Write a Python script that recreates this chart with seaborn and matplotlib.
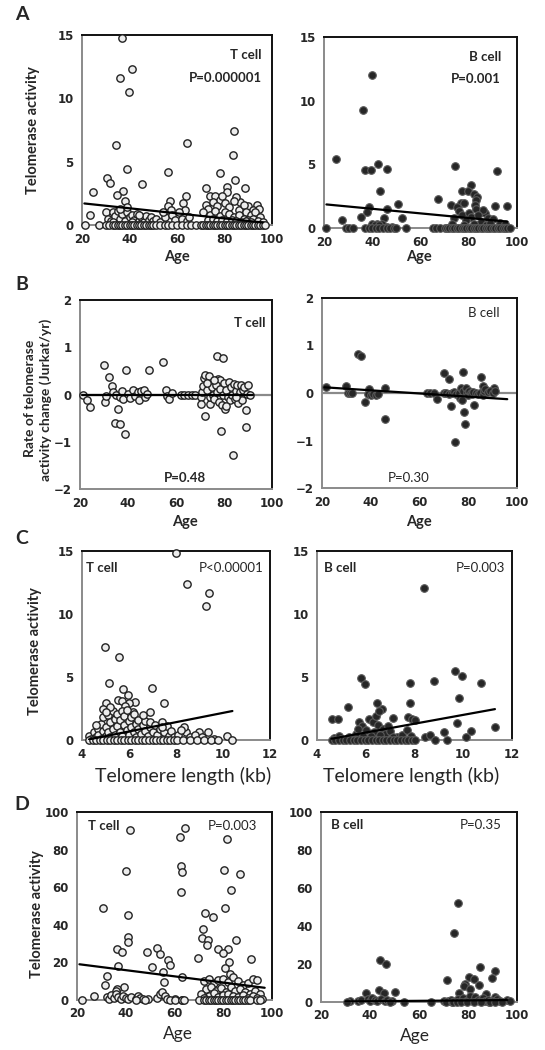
import numpy as np
import pandas as pd
import matplotlib
matplotlib.use("Agg")
import matplotlib.pyplot as plt
import seaborn as sns

# ---------------- DATA ----------------
# Panel A: age vs telomerase activity
a_t_points = [(36.8,14.8),(36.1,11.6),(41.1,12.3),(39.6,10.5),(34.5,6.3),(83.9,7.4),(64.2,6.5),(83.4,5.5),
    (38.9,4.45),(56.2,4.2),(78.2,4.1),(30.5,3.75),(31.6,3.3),(45.1,3.2),(84.6,3.55),(81.1,3.0),(88.8,2.95),
    (72.2,2.9),(24.6,2.6),(37.3,2.7),(34.7,2.4),(63.6,2.3),(74.0,2.3),(76.1,2.3),(37.9,1.9),(57.2,1.9),
    (78.2,2.0),(86.6,1.85),(62.6,1.7),(93.7,1.6),(23.5,0.8),(63.5,1.2),(56,1.5),(57.5,1.2),(81,2.6),(79,2.3),
    (85,2.2),(90,1.5),(92,1.2),(94.5,1.3),(72,1.6),(73,1.3),(75,1.8),(77,1.5),(80,1.7),(82,1.4),(84,1.9),
    (86,1.2),(88,1.6),(89,1.0),(91,0.8),(93,1.0),(95,0.6),(71,1.0),(74,0.8),(76,1.1),(78,0.7),(80,1.0),
    (82,0.9),(84,0.6),(86,0.8),(88,0.5),(90,0.4),(92,0.5),(94,0.3),(96,0.2),(73,0.4),(75,0.5),(77,0.3),
    (79,0.4),(81,0.3),(83,0.4),(85,0.3),(87,0.2),(89,0.3),(91,0.2),(30,1.0),(31,0.5),(32,0.3),(33,1.0),
    (34,0.7),(35,1.1),(36,0.5),(37,0.9),(38,0.3),(39,1.0),(40,0.6),(41,0.8),(42,0.4),(43,0.9),(44,0.3),
    (45,0.6),(46,0.2),(47,0.7),(48,0.4),(49,0.6),(50,0.3),(51,0.5),(36,1.3),(39,1.4),(33,0.2),(41,0.2),
    (44,0.8),(53,0.2),(55,0.6),(58,0.8),(59,0.4),(61,1.0),(62,0.5),(64,0.3),(65,0.6),(54,1.0)]
a_t_zero_ages = [21.4,27,30,31.5,33,34,35,36,37,38,39,40,41,42,43,44,45,46,47,48,49,50,51,53,55,56,58,60,
    62,64,66,68,70,71,72,73,74,75,76,77,78,79,80,81,82,83,84,85,86,87,88,89,90,91,92,93,94,95,96,97]
a_t_fit_x = [21, 96]
a_t_fit_y = [1.7, 0.2]

a_b_points = [(39.7,12.0),(36.3,9.3),(24.8,5.45),(42.5,5.0),(37.2,4.55),(39.6,4.55),(46.2,4.6),(74.5,4.9),
    (91.7,4.45),(43.2,2.9),(67.2,2.25),(46.2,1.5),(50.8,1.85),(38.6,1.65),(38,1.25),(35.2,0.85),(45,0.75),
    (52.4,0.75),(27.6,0.6),(72.5,1.8),(81,3.35),(77.2,2.9),(79.6,2.9),(82,2.7),(83.5,2.45),(83,2.2),
    (82.5,1.8),(83,1.5),(76.8,1.95),(78.2,1.95),(75,1.65),(91,1.7),(96,1.7),(86.7,1.2),(86,1.45),(76,1.3),
    (77,1.0),(80,1.2),(81,0.9),(84,1.0),(88,0.8),(90,0.7),(74,0.8),(79,0.6),(85,0.5),(93,0.4),(95,0.3),
    (73,0.3),(78,0.2),(82,0.3),(87,0.2),(89,0.4),(40,0.3),(42,0.35),(44,0.3),(41,0.2),(43,0.2),(46,0.1),(48,0.1)]
a_b_zero_ages = [21,29,30.5,32,37,38.5,40,41.5,43,44.5,46,47.5,49,50,54,65,66.5,68,70,71,72,73,74,75,76,
    77,78,79,80,81,82,83,84,85,86,87,88,89,90,91,92,93,94,95,96,97]
a_b_fit_x = [21, 96]
a_b_fit_y = [1.85, 0.5]

# Panel B: age vs rate of telomerase activity change
b_t_points = [(21.1,0),(23,-0.11),(24.2,-0.27),(30.1,0.63),(31.9,0.37),(33.2,0.18),(33.9,0.06),(30.6,-0.15),
    (31,-0.04),(34.7,-0.6),(36.7,-0.62),(36,-0.3),(38.7,-0.83),(39.2,0.51),(35,0.0),(36.5,-0.05),(37.5,0.08),
    (38,-0.1),(40,0.02),(41,-0.07),(42,0.1),(43,-0.03),(44,0.05),(44.5,-0.12),(45.5,0.07),(46.5,0.1),
    (47,-0.05),(48,0.02),(48.8,0.51),(54.4,0.69),(55.7,0.1),(56.1,-0.03),(57.1,-0.1),(58.2,0.03),(62,0),
    (63.5,0),(65,0),(66.5,0),(68,0),(70.4,-0.06),(70.8,0.06),(71.2,0.17),(71.5,0.35),(72.2,0.42),(73.9,0.40),
    (72,-0.45),(70.6,-0.2),(74.2,-0.2),(77.6,0.33),(78.3,0.31),(77.2,0.82),(79.4,0.78),(78.6,-0.78),
    (83.9,-1.27),(89,-0.68),(89.2,-0.32),(73,0.1),(74,-0.05),(75,0.15),(75.5,0.0),(76,-0.1),(76.5,0.2),
    (77,0.05),(78,-0.15),(78.5,0.12),(79,-0.22),(79.5,0.0),(80,0.25),(80.5,-0.3),(81,0.1),(81.5,-0.05),
    (82,0.27),(82.5,-0.12),(83,0.15),(83.5,0.0),(84,0.22),(84.5,-0.1),(85,0.08),(85.5,0.2),(86,-0.18),
    (86.5,0.05),(87,0.2),(87.5,-0.12),(88,0.1),(88.5,0.15),(89.5,0.02),(90,0.2),(91,0.0),(76,0.3),
    (81,-0.25),(85,-0.05),(73,0.25)]
b_t_fit_x = [21, 92]
b_t_fit_y = [-0.02, -0.02]

b_b_points = [(21.8,0.12),(29.8,0.15),(30.5,0),(31.5,0),(32.3,0),(34.8,0.82),(36.1,0.78),(37.6,-0.18),
    (39.1,0.09),(39,-0.03),(40,-0.05),(41,-0.03),(42,-0.04),(43,-0.02),(46,0.11),(45.7,-0.54),(63,0),
    (64.5,0),(66,0),(67.2,-0.13),(69.9,0.42),(72.3,0.29),(73,-0.27),(74.4,-1.04),(77.7,0.45),(78.4,-0.4),
    (78.8,-0.65),(82.5,-0.25),(85.4,0.34),(86.1,0.15),(90.7,0.11),(70,0),(71,0.0),(72,-0.02),(73.5,0.0),
    (74,0.02),(75,-0.03),(76,0.0),(76.5,-0.1),(77,0.1),(77.5,-0.15),(78,0.05),(79,0.1),(79.5,0.0),
    (80,-0.05),(80.5,0.05),(81,0.0),(81.5,-0.03),(82,0.02),(83,0.0),(84,-0.02),(85,0.0),(86,-0.05),
    (86.5,0.05),(87,0.08),(88,0.02),(89,0.05),(90,0.0),(91,0.05)]
b_b_fit_x = [21, 96]
b_b_fit_y = [0.12, -0.13]

# Panel C: telomere length vs telomerase activity
c_t_points = [(7.99,14.85),(8.48,12.4),(9.4,11.7),(9.26,10.66),(4.98,7.37),(5.56,6.55),(5.16,4.5),(5.73,4.05),
    (6.99,4.1),(5.97,3.57),(5.55,3.2),(5.69,3.1),(6.26,3.04),(6.01,2.96),(5.83,2.7),(5.02,2.9),(7.49,2.9),
    (4.9,2.5),(6.89,2.25),(8.98,0.6),(9.37,0.6),(10.16,0.35),(10.4,0),(8.43,0.66),(8.35,1.05),(6.17,2.2),
    (4.3,0.3),(4.4,0.1),(4.5,0.6),(4.6,0.2),(4.7,0.9),(4.7,0.4),(4.8,1.3),(4.8,0.1),(4.9,0.7),(4.9,1.8),
    (5.0,1.0),(5.0,0.3),(5.1,2.0),(5.1,0.6),(5.2,1.4),(5.2,0.2),(5.3,2.3),(5.3,0.9),(5.4,1.7),(5.4,0.4),
    (5.5,2.1),(5.5,1.1),(5.6,0.6),(5.6,1.6),(5.7,2.3),(5.7,0.3),(5.8,1.2),(5.8,1.9),(5.9,0.8),(5.9,2.4),
    (6.0,1.5),(6.0,0.4),(6.1,1.8),(6.1,1.0),(6.2,0.6),(6.2,2.1),(6.3,1.3),(6.3,0.2),(6.4,0.9),(6.4,1.6),
    (6.5,0.5),(6.6,1.2),(6.7,0.7),(6.7,1.5),(6.8,0.3),(6.9,1.0),(6.9,1.4),(7.0,0.6),(7.1,1.2),(7.2,0.4),
    (7.3,0.9),(7.4,1.4),(7.5,0.6),(7.6,1.1),(7.7,0.3),(7.8,0.7),(7.9,0.2),(8.1,0.4),(8.2,0.8),(8.6,0.2),
    (8.8,0.4),(9.1,0.2),(9.6,0.1),(5.2,2.6),(5.0,2.2),(4.6,1.2),(6.6,2.0),(7.4,1.0)]
c_t_zero_len = [4.3,4.45,4.6,4.75,4.9,5.05,5.2,5.35,5.5,5.65,5.8,5.95,6.1,6.25,6.4,6.55,6.7,6.85,7.0,7.15,
    7.3,7.45,7.6,7.75,7.9,8.05,8.3,8.6,8.9,9.2,9.5,9.8]
c_t_fit_x = [4.3, 10.4]
c_t_fit_y = [0.05, 2.3]

c_b_points = [(8.4,12.1),(9.68,5.5),(9.95,5.1),(10.74,4.5),(5.82,4.9),(5.96,4.45),(7.83,4.55),(8.79,4.65),
    (5.27,2.6),(6.46,2.97),(6.67,2.44),(7.8,2.97),(9.81,3.3),(4.62,1.67),(4.85,1.67),(6.12,1.65),(5.74,1.46),
    (5.85,1.1),(7.12,1.78),(7.73,1.86),(7.9,1.65),(8.0,1.6),(9.75,1.33),(10.33,0.74),(10.13,0.27),(9.2,0.6),
    (11.3,1.0),(8.45,0.27),(8.65,0.4),(6.3,1.4),(6.4,1.9),(6.5,1.2),(6.55,2.3),(6.7,0.9),(6.8,0.5),(6.9,1.1),
    (6.35,0.6),(6.2,0.3),(6.0,0.8),(5.6,0.5),(5.7,0.9),(5.9,0.3),(7.0,0.7),(7.3,0.2),(7.5,0.4),(7.7,0.8),
    (7.85,0.3),(4.7,0.15),(4.9,0.3),(5.0,0.1),(5.3,0.2),(5.5,0.1),(6.6,0.4),(7.1,0.2)]
c_b_zero_len = [4.6,4.75,4.9,5.05,5.2,5.35,5.5,5.65,5.8,5.95,6.1,6.25,6.4,6.55,6.7,6.85,7.0,7.15,7.3,7.45,
    7.6,7.75,7.9,8.0,8.86,9.34]
c_b_fit_x = [4.6, 11.3]
c_b_fit_y = [0.1, 2.45]

# Panel D: age vs telomerase activity (0-100 scale)
d_t_points = [(40.1,68.5),(41.8,90.6),(30.5,48.8),(40.8,45.4),(41,33.7),(41,31),(36.5,27),(38.3,25.5),(37,18),
    (32.2,12.8),(31.5,8),(39.4,7.1),(36.3,6),(35.8,4.6),(48.8,25.5),(53,27.8),(54,24.5),(50.6,17.7),(55.4,15),
    (57.2,21.3),(58.1,18.6),(55.5,9.4),(63.2,12.4),(62.2,86.7),(64.2,91.7),(62.6,71.3),(62.9,68.1),(62.6,57.2),
    (81.4,85.8),(80.3,69.4),(86.8,66.9),(83,58.4),(80.7,48.8),(72.5,46.5),(75.6,44.3),(71.5,37.6),(71.3,32.8),
    (73.8,31.9),(73.4,29.3),(77.7,27),(82,27),(80,24.8),(82.4,20.4),(85.4,31.9),(69.7,22.2),(91.3,21.6),
    (80.7,16.8),(82.8,13.8),(72,10),(74,11),(76,9),(78,10.5),(80,11),(82,9.5),(84,12),(86,10),(88,8),(90,9),
    (92,11),(94,10.5),(73,6),(75,7),(77,5),(79,6.5),(81,4),(83,7),(85,5),(87,6),(89,4),(91,3),(93,5),(95,3),
    (71,3),(74,2),(76,3.5),(78,1.5),(80,2.5),(82,3),(84,2),(86,1.5),(88,2.5),(90,1),(92,2),(94,1),(72,1),
    (96,0.5),(27,2),(32.5,1.5),(33,0.5),(34,2.5),(35,1),(36,3),(37,1.5),(38,0.5),(39,2),(40,1),(41,0.5),
    (42,1.5),(44,0.5),(45,2),(46,1),(47,0.3),(49,0.5),(53,1),(54,3),(55,4.5),(56,2),(57,0.5),(60,0.3),(63,0.2)]
d_t_zero_ages = [22,44,48,58,60,63,64,70,72,73,74,75,76,77,78,79,80,81,82,83,84,85,86,87,88,89,90,91,94,95]
d_t_fit_x = [21, 97]
d_t_fit_y = [19, 6.5]

d_b_points = [(75.9,52.2),(74.1,36.2),(44.2,22.3),(46.5,20.2),(71.4,11.7),(85,18.6),(91.2,16.5),(89.8,12.7),
    (80.3,13),(82.3,12.2),(78.9,9.6),(78.2,8.3),(81,7),(76.2,4.9),(84.4,8.7),(87.3,4),(91.2,2.6),(38.5,4.5),
    (43.5,6.5),(45.6,4.9),(50,5.2),(32,0.3),(35,0.5),(36.5,1),(39,1.5),(40,0.5),(41,2),(42,1),(43,0.3),
    (44.5,1.5),(46,0.5),(47,1),(49,0.3),(70,0.5),(72,0.3),(73,1),(75,0.5),(76,1.5),(78,2),(79,0.5),(80,1),
    (81,3),(82,0.5),(83,2.5),(84,1),(85,0.3),(86,2),(87,0.5),(88,1),(90,0.5),(92,1.5),(93,0.3),(96,1),(97,0.5)]
d_b_zero_ages = [30.6,48,54,65,71,73.5,74,75.5,77,79.5,82.5,85.5,88.5,89,91,94]
d_b_fit_x = [30, 96]
d_b_fit_y = [0.3, 1.0]

age_ticks = [20, 40, 60, 80, 100]
len_ticks = [4, 6, 8, 10, 12]
act_ticks = [0, 5, 10, 15]
rate_ticks = [-2, -1, 0, 1, 2]
pct_ticks = [0, 20, 40, 60, 80, 100]

# ---------------- STYLE ----------------
sns.set_theme(style="white")
plt.rcParams['font.family'] = ['DejaVu Sans']
W, H = 545, 1050
fig = plt.figure(figsize=(W / 100, H / 100), dpi=100)

LAB = 'Lato'
GREY = '#8a8a8a'


def axes_px(x0, x1, y0, y1):
    return fig.add_axes([x0 / W, 1 - y1 / H, (x1 - x0) / W, (y1 - y0) / H])


def ftext(x, y, s, **kw):
    kw.setdefault('family', LAB)
    fig.text(x / W, 1 - y / H, s, **kw)


def panel(ax, pts, zeros, fx, fy, kind, xlim, ylim, xticks, yticks, zero_line=False, xpad=3):
    xs = [p[0] for p in pts] + list(zeros)
    ys = [p[1] for p in pts] + [0.0] * len(zeros)
    df = pd.DataFrame({'x': xs, 'y': ys})
    if kind == 'T':
        sns.scatterplot(data=df, x='x', y='y', ax=ax, s=28, color='#ececec',
                        edgecolor='#222222', linewidth=1.0, legend=False, zorder=3, clip_on=False)
    else:
        sns.scatterplot(data=df, x='x', y='y', ax=ax, s=30, color='#262626',
                        edgecolor='#5a5a5a', linewidth=0.8, legend=False, zorder=3, clip_on=False)
    if zero_line:
        ax.axhline(0, color=GREY, lw=1.6, zorder=2)
    fit = pd.DataFrame({'x': fx, 'y': fy})
    sns.lineplot(data=fit, x='x', y='y', ax=ax, color='black', lw=1.6, zorder=4, legend=False)
    ax.set_xlim(*xlim)
    ax.set_ylim(*ylim)
    ax.set_xticks(xticks)
    ax.set_yticks(yticks)
    ax.set_xlabel('')
    ax.set_ylabel('')
    for side in ['top', 'right']:
        ax.spines[side].set_color('#111111')
        ax.spines[side].set_linewidth(1.4)
    for side in ['left', 'bottom']:
        ax.spines[side].set_color(GREY)
        ax.spines[side].set_linewidth(1.4)
    ax.tick_params(axis='both', which='major', direction='out', length=3, width=1,
                   color=GREY, labelsize=8.5, pad=3)
    ax.tick_params(axis='x', pad=xpad)
    for lab in ax.get_xticklabels() + ax.get_yticklabels():
        lab.set_fontweight('bold')
        lab.set_family('DejaVu Sans')
    ax.set_facecolor('white')
    ax.grid(False)


# Panel A
ax = axes_px(82, 272, 35, 225)
panel(ax, a_t_points, a_t_zero_ages, a_t_fit_x, a_t_fit_y, 'T', (20, 100), (0, 15), age_ticks, act_ticks)
ax = axes_px(324, 517, 37, 228)
panel(ax, a_b_points, a_b_zero_ages, a_b_fit_x, a_b_fit_y, 'B', (20, 100), (0, 15), age_ticks, act_ticks)
# Panel B
ax = axes_px(80, 272, 300, 489)
panel(ax, b_t_points, [], b_t_fit_x, b_t_fit_y, 'T', (20, 100), (-2, 2), age_ticks, rate_ticks, zero_line=True)
ax = axes_px(322, 517, 298, 488)
panel(ax, b_b_points, [], b_b_fit_x, b_b_fit_y, 'B', (20, 100), (-2, 2), age_ticks, rate_ticks, zero_line=True)
# Panel C
ax = axes_px(82, 270, 551, 740)
panel(ax, c_t_points, c_t_zero_len, c_t_fit_x, c_t_fit_y, 'T', (4, 12), (0, 15), len_ticks, act_ticks)
ax = axes_px(317, 512, 551, 740)
panel(ax, c_b_points, c_b_zero_len, c_b_fit_x, c_b_fit_y, 'B', (4, 12), (0, 15), len_ticks, act_ticks)
# Panel D
ax = axes_px(77, 272, 812, 1000)
panel(ax, d_t_points, d_t_zero_ages, d_t_fit_x, d_t_fit_y, 'T', (20, 100), (0, 100), age_ticks, pct_ticks, xpad=2)
ax = axes_px(321, 517, 812, 1002)
panel(ax, d_b_points, d_b_zero_ages, d_b_fit_x, d_b_fit_y, 'B', (20, 100), (0, 100), age_ticks, pct_ticks, xpad=2)

# Panel letters
for letter, y in [('A', 15), ('B', 284), ('C', 538), ('D', 805)]:
    ftext(22, y, letter, fontsize=14, fontweight='bold', ha='center', va='center')

# Y labels
ftext(33, 130, 'Telomerase activity', fontsize=10.5, fontweight='bold', rotation=90, ha='center', va='center')
ftext(30, 398, 'Rate of telomerase', fontsize=10, fontweight='bold', rotation=90, ha='center', va='center')
ftext(46, 400, 'activity change (Jurkat/yr)', fontsize=10, fontweight='bold', rotation=90, ha='center', va='center')
ftext(35, 651, 'Telomerase activity', fontsize=10.5, fontweight='bold', rotation=90, ha='center', va='center')
ftext(37, 914, 'Telomerase activity', fontsize=10.5, fontweight='bold', rotation=90, ha='center', va='center')

# X labels
ftext(177, 257, 'Age', fontsize=10.5, fontweight='bold', ha='center', va='center')
ftext(419, 257, 'Age', fontsize=10.5, fontweight='bold', ha='center', va='center')
ftext(185, 522, 'Age', fontsize=10.5, fontweight='bold', ha='center', va='center')
ftext(419, 522, 'Age', fontsize=10.5, fontweight='bold', ha='center', va='center')
ftext(183, 776, 'Telomere length (kb)', fontsize=14, ha='center', va='center')
ftext(411, 776, 'Telomere length (kb)', fontsize=14, ha='center', va='center')
ftext(178, 1034, 'Age', fontsize=12.5, ha='center', va='center')
ftext(415, 1036, 'Age', fontsize=12.5, ha='center', va='center')

# Annotations
ftext(262, 55, 'T cell', fontsize=9.5, fontweight='bold', ha='right', va='center')
ftext(262, 78, 'P=0.000001', fontsize=9.5, fontweight='bold', ha='right', va='center')
ftext(501, 57, 'B cell', fontsize=9.5, fontweight='bold', ha='right', va='center')
ftext(501, 79, 'P=0.001', fontsize=9.5, fontweight='bold', ha='right', va='center')
ftext(265, 323, 'T cell', fontsize=9.5, fontweight='bold', ha='right', va='center')
ftext(185, 478, 'P=0.48', fontsize=9.5, fontweight='bold', ha='center', va='center')
ftext(500, 313, 'B cell', fontsize=9.5, ha='right', va='center')
ftext(409, 478, 'P=0.30', fontsize=9.5, ha='center', va='center')
ftext(86, 568, 'T cell', fontsize=9.5, fontweight='bold', ha='left', va='center')
ftext(263, 568, 'P<0.00001', fontsize=9.5, ha='right', va='center')
ftext(324, 568, 'B cell', fontsize=9.5, fontweight='bold', ha='left', va='center')
ftext(505, 568, 'P=0.003', fontsize=9.5, ha='right', va='center')
ftext(88, 826, 'T cell', fontsize=9.5, fontweight='bold', ha='left', va='center')
ftext(257, 826, 'P=0.003', fontsize=9.5, ha='right', va='center')
ftext(331, 825, 'B cell', fontsize=9.5, fontweight='bold', ha='left', va='center')
ftext(502, 825, 'P=0.35', fontsize=9.5, ha='right', va='center')

fig.savefig('out.png', dpi=100, facecolor='white')
